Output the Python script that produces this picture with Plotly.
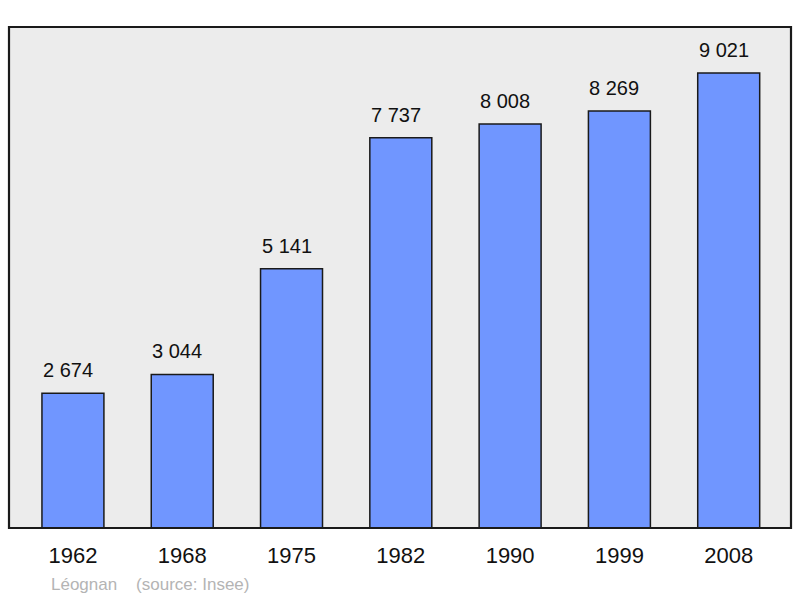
import plotly.graph_objects as go

years = ["1962", "1968", "1975", "1982", "1990", "1999", "2008"]
population = [2674, 3044, 5141, 7737, 8008, 8269, 9021]
value_labels = ["2 674", "3 044", "5 141", "7 737", "8 008", "8 269", "9 021"]
footer = "Léognan    (source: Insee)"

idx = list(range(len(years)))

fig = go.Figure()
fig.add_trace(go.Bar(
    x=idx, y=population, width=0.567,
    marker=dict(color="#7096ff", line=dict(color="#1a1a1a", width=1.5)),
    hoverinfo="skip",
))

for i, v, t in zip(idx, population, value_labels):
    fig.add_annotation(x=i, y=v, text=t, showarrow=False, yanchor="bottom",
                       yshift=10, xshift=-5, font=dict(size=20, color="#111111"))

fig.add_shape(type="rect", xref="paper", yref="paper", x0=0, y0=0, x1=1, y1=1,
              line=dict(color="#1a1a1a", width=2.2), layer="above")

fig.add_annotation(xref="paper", yref="paper", x=0.051, y=-0.112, xanchor="left",
                   yanchor="middle", text=footer, showarrow=False,
                   font=dict(size=17, color="#b4b4b4"))

fig.update_layout(
    width=800, height=598,
    margin=dict(l=9, r=9, t=27, b=70),
    paper_bgcolor="white", plot_bgcolor="#ececec",
    font=dict(family="Liberation Sans, Arial, sans-serif"),
    showlegend=False,
    xaxis=dict(range=[-0.585, 6.57], tickvals=idx, ticktext=years,
               showgrid=False, zeroline=False, ticks="outside", ticklen=8,
               tickcolor="rgba(0,0,0,0)", tickfont=dict(size=22, color="#111111")),
    yaxis=dict(range=[0, 9933], showgrid=False, zeroline=False,
               showticklabels=False),
)

fig.write_html("out.html", config={"displayModeBar": False},
               post_script="document.body.style.margin='0';document.body.style.overflow='hidden';")
